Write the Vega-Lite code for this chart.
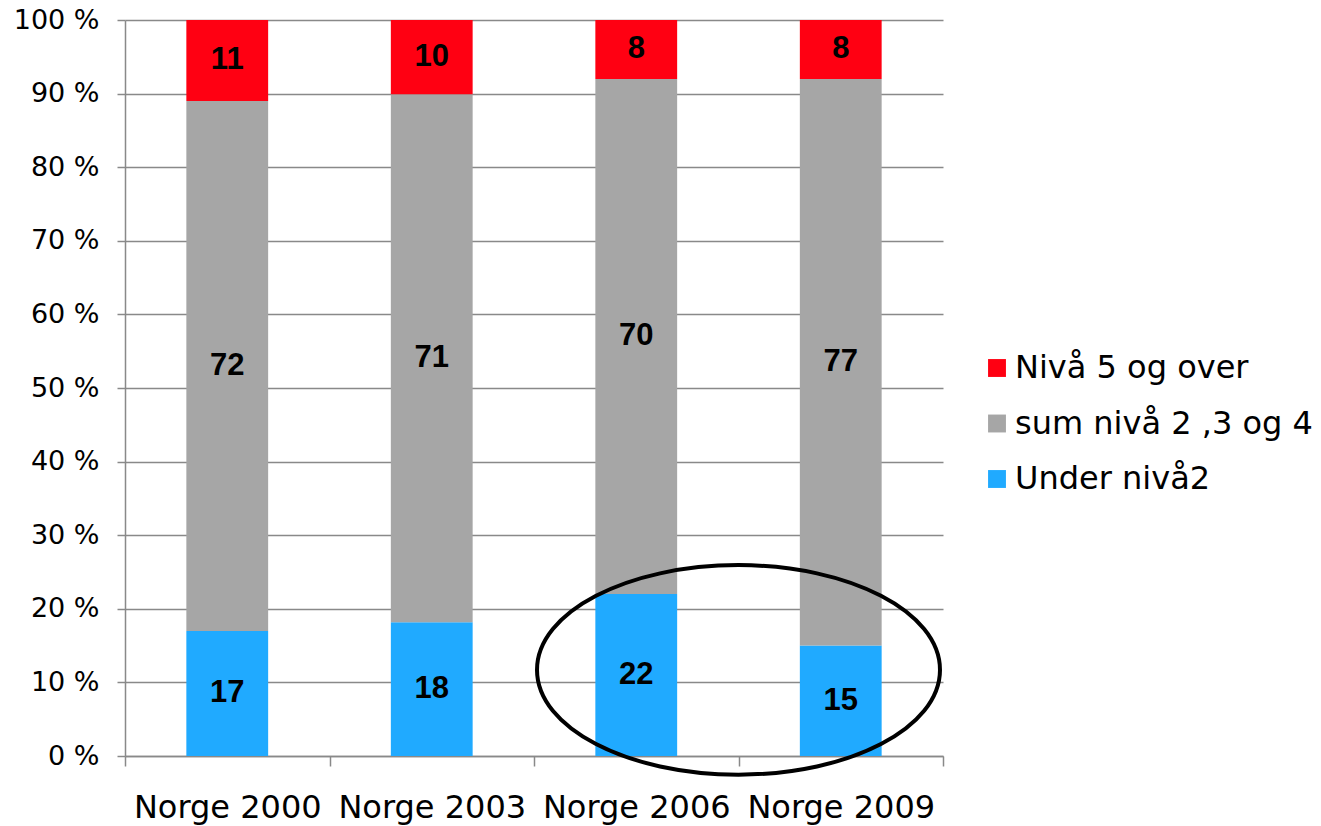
{
  "$schema": "https://vega.github.io/schema/vega-lite/v6.json",
  "width": 818,
  "height": 736,
  "autosize": "none",
  "padding": {"left": 125, "top": 20, "right": 378, "bottom": 70},
  "background": "white",
  "config": {"view": {"stroke": null}, "font": "DejaVu Sans"},
  "datasets": {
    "levels": [
      {"cat": "Norge 2000", "serie": "Under nivå2", "ord": 1, "value": 17},
      {"cat": "Norge 2000", "serie": "sum nivå 2 ,3 og 4", "ord": 2, "value": 72},
      {"cat": "Norge 2000", "serie": "Nivå 5 og over", "ord": 3, "value": 11},
      {"cat": "Norge 2003", "serie": "Under nivå2", "ord": 1, "value": 18},
      {"cat": "Norge 2003", "serie": "sum nivå 2 ,3 og 4", "ord": 2, "value": 71},
      {"cat": "Norge 2003", "serie": "Nivå 5 og over", "ord": 3, "value": 10},
      {"cat": "Norge 2006", "serie": "Under nivå2", "ord": 1, "value": 22},
      {"cat": "Norge 2006", "serie": "sum nivå 2 ,3 og 4", "ord": 2, "value": 70},
      {"cat": "Norge 2006", "serie": "Nivå 5 og over", "ord": 3, "value": 8},
      {"cat": "Norge 2009", "serie": "Under nivå2", "ord": 1, "value": 15},
      {"cat": "Norge 2009", "serie": "sum nivå 2 ,3 og 4", "ord": 2, "value": 77},
      {"cat": "Norge 2009", "serie": "Nivå 5 og over", "ord": 3, "value": 8}
    ],
    "ring": [
      {"cat": "Norge 2006", "y": 0.117}
    ]
  },
  "layer": [
    {
      "data": {"name": "levels"},
      "mark": {"type": "bar", "width": {"band": 0.4}},
      "encoding": {
        "x": {
          "field": "cat",
          "type": "nominal",
          "sort": null,
          "scale": {"paddingInner": 0, "paddingOuter": 0},
          "axis": {
            "title": null,
            "labelAngle": 0,
            "labelFontSize": 32,
            "labelColor": "#000",
            "labelPadding": 26,
            "labelLimit": 0,
            "tickBand": "extent",
            "tickSize": 10,
            "tickColor": "#898989",
            "tickWidth": 1.5,
            "domainColor": "#898989",
            "domainWidth": 1.5,
            "grid": false
          }
        },
        "y": {
          "field": "value",
          "type": "quantitative",
          "stack": "normalize",
          "scale": {"domain": [0, 1]},
          "axis": {
            "title": null,
            "values": [0, 0.1, 0.2, 0.3, 0.4, 0.5, 0.6, 0.7, 0.8, 0.9, 1],
            "labelExpr": "round(datum.value*100) + ' %'",
            "labelFontSize": 27,
            "labelColor": "#000",
            "labelPadding": 18,
            "tickSize": 8,
            "tickColor": "#898989",
            "tickWidth": 1.5,
            "domainColor": "#898989",
            "domainWidth": 1.5,
            "grid": true,
            "gridColor": "#898989",
            "gridWidth": 1.5
          }
        },
        "color": {
          "field": "serie",
          "type": "nominal",
          "scale": {
            "domain": ["Nivå 5 og over", "sum nivå 2 ,3 og 4", "Under nivå2"],
            "range": ["#FF0012", "#A6A6A6", "#20AAFF"]
          },
          "legend": {
            "title": null,
            "orient": "none",
            "legendX": 856,
            "legendY": 332,
            "padding": 0,
            "symbolType": "square",
            "symbolSize": 320,
            "symbolStrokeWidth": 0,
            "labelFontSize": 32,
            "labelColor": "#000",
            "labelOffset": 2,
            "labelLimit": 0,
            "rowPadding": 23.5
          }
        },
        "order": {"field": "ord", "type": "quantitative"}
      }
    },
    {
      "data": {"name": "levels"},
      "mark": {"type": "text", "font": "Liberation Sans", "fontWeight": "bold", "fontSize": 31, "color": "#000"},
      "encoding": {
        "x": {"field": "cat", "type": "nominal", "sort": null},
        "y": {"field": "value", "type": "quantitative", "stack": "normalize", "bandPosition": 0.5},
        "detail": {"field": "serie"},
        "order": {"field": "ord", "type": "quantitative"},
        "text": {"field": "value", "type": "quantitative"}
      }
    },
    {
      "data": {"name": "ring"},
      "mark": {
        "type": "point",
        "shape": "M-1,0A1,0.52,0,1,0,1,0A1,0.52,0,1,0,-1,0Z",
        "size": 162400,
        "filled": false,
        "stroke": "#000",
        "strokeWidth": 4,
        "opacity": 1,
        "clip": false
      },
      "encoding": {
        "x": {"field": "cat", "type": "nominal", "sort": null, "bandPosition": 1},
        "y": {"field": "y", "type": "quantitative"}
      }
    }
  ]
}
